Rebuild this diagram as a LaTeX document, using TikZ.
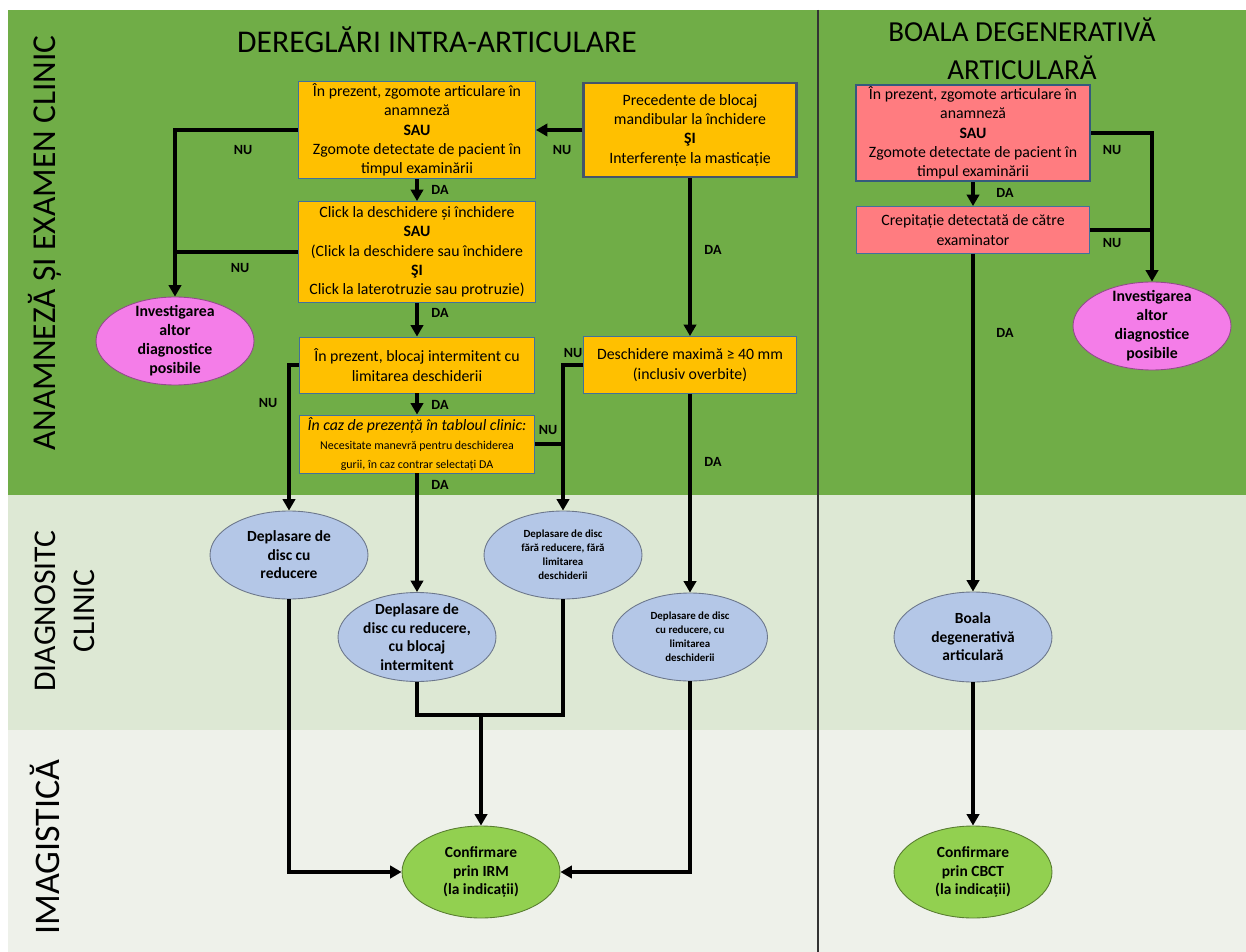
\documentclass[tikz,border=0pt]{standalone}
\usepackage{fontspec}
\setmainfont{Carlito}
\usetikzlibrary{arrows.meta,shapes.geometric,calc}
\definecolor{laneTop}{RGB}{112,173,71}
\definecolor{laneMid}{RGB}{221,232,212}
\definecolor{laneLow}{RGB}{238,241,234}
\definecolor{boxOrange}{RGB}{255,192,0}
\definecolor{boxPink}{RGB}{255,124,128}
\definecolor{edgeBlue}{RGB}{65,113,156}
\definecolor{edgeDark}{RGB}{68,84,106}
\definecolor{dxBlue}{RGB}{180,199,231}
\definecolor{dxMagenta}{RGB}{244,125,232}
\definecolor{dxGreen}{RGB}{146,208,80}

\begin{document}
\begin{tikzpicture}[
    x=0.02cm, y=-0.02cm,
    >={Triangle[length=6.5pt,width=7pt]},
    ask/.style={draw=edgeBlue, line width=0.5pt, fill=#1, align=center, inner sep=1pt,
                font=\fontsize{9}{11}\selectfont},
    ask/.default=boxOrange,
    dx/.style={ellipse, draw=#1!60!black, line width=0.5pt, fill=#1, align=center,
               inner xsep=0pt, inner ysep=-4pt,
               minimum width=3.16cm, minimum height=1.76cm,
               font=\fontsize{8.8}{10.5}\selectfont\bfseries},
    dx/.default=dxBlue,
    small/.style={font=\fontsize{6.2}{8}\selectfont\bfseries, inner ysep=-2pt},
    big/.style={font=\fontsize{9}{10.8}\selectfont\bfseries},
    link/.style={line width=2.2pt, ->},
    seg/.style={line width=2.2pt},
    yn/.style={font=\fontsize{8}{10}\selectfont\bfseries},
    ttl/.style={font=\fontsize{#1}{21.5}\selectfont, align=center},
    lane/.style={font=\fontsize{#1}{22.5}\selectfont, align=center, rotate=90},
]
\useasboundingbox (0,0) rectangle (1246,952);

% lanes
\fill[white] (0,0) rectangle (1246,952);
\fill[laneTop] (8,10) rectangle (1246,495);
\fill[laneMid] (8,495) rectangle (1246,730);
\fill[laneLow] (8,730) rectangle (1246,952);
\draw[line width=0.6pt, black!80] (818,10) -- (818,952);

\node[lane=19] (lanA) at (45,243) {ANAMNEZĂ ȘI EXAMEN CLINIC};
\node[lane=18] (lanD) at (65,611) {DIAGNOSITC\\CLINIC};
\node[lane=20.5] (lanI) at (45,847) {IMAGISTICĂ};

\node[ttl=18] (ttlA) at (437,40) {DEREGLĂRI INTRA-ARTICULARE};
\node[ttl=16.5] (ttlB) at (1022,49) {BOALA DEGENERATIVĂ\\ARTICULARĂ};

% intra-articular column
\node[ask, minimum width=4.74cm, minimum height=1.92cm] (zg) at (417,130)
    {În prezent, zgomote articulare în\\anamneză\\\textbf{SAU}\\Zgomote detectate de pacient în\\timpul examinării};
\node[ask, draw=edgeDark, line width=1.4pt, minimum width=4.26cm, minimum height=1.88cm] (prec) at (690,130)
    {Precedente de blocaj\\mandibular la închidere\\\textbf{ŞI}\\Interferențe la masticație};
\node[ask, minimum width=4.74cm, minimum height=2.02cm] (click) at (417,252)
    {Click la deschidere și închidere\\\textbf{SAU}\\(Click la deschidere sau închidere\\\textbf{ŞI}\\Click la laterotruzie sau protruzie)};
\node[ask, minimum width=4.7cm, minimum height=1.12cm] (blocaj) at (417,365)
    {În prezent, blocaj intermitent cu\\limitarea deschiderii};
\node[ask, minimum width=4.7cm, minimum height=1.16cm] (caz) at (417,444)
    {\textit{În caz de prezență în tabloul clinic:}\\{\fontsize{6.8}{9}\selectfont Necesitate manevră pentru deschiderea}\\{\fontsize{6.8}{9}\selectfont gurii, în caz contrar selectați DA}};
\node[ask, minimum width=4.26cm, minimum height=1.14cm] (desch) at (690,365)
    {Deschidere maximă ≥ 40 mm\\(inclusiv overbite)};

\node[dx=dxMagenta, big] (invL) at (175,341) {Investigarea\\altor\\diagnostice\\posibile};
\node[dx] (dcr) at (289,555) {Deplasare de\\disc cu\\reducere};
\node[dx, minimum height=1.78cm] (dcb) at (417,637) {Deplasare de\\disc cu reducere,\\cu blocaj\\intermitent};
\node[dx, small] (dfr) at (563,555) {Deplasare de disc\\fără reducere, fără\\limitarea\\deschiderii};
\node[dx, small, minimum width=3.1cm] (dcl) at (690,637) {Deplasare de disc\\cu reducere, cu\\limitarea\\deschiderii};
\node[dx=dxGreen, minimum height=1.84cm] (irm) at (481,872) {Confirmare\\prin IRM\\(la indicații)};

\draw[link] (prec) -- (zg);
\draw[link] (zg.west) -| (invL.north);
\draw[seg] (click.west) -- (click.west -| invL.north);
\draw[link] (zg) -- (click);
\draw[link] (click) -- (blocaj);
\draw[link] (blocaj) -- (caz);
\draw[link] (blocaj.west) -| (dcr.north);
\draw[link] (caz) -- (dcb);
\draw[link] (desch.west) -| (dfr.north);
\draw[seg] (caz.east) -- (caz.east -| dfr.north);
\draw[link] (prec) -- (desch);
\draw[link] (desch) -- (dcl);
\coordinate (mrg) at (481,715);
\draw[seg] (dcb.south) |- (mrg) -| (dfr.south);
\draw[link] (mrg) -- (irm.north);
\draw[link] (dcr.south) |- (irm.west);
\draw[link] (dcl.south) |- (irm.east);

\node[yn] (n1) at (562,150) {NU};
\node[yn] (n2) at (243,150) {NU};
\node[yn] (n3) at (240,268) {NU};
\node[yn] (n4) at (268,403) {NU};
\node[yn] (n5) at (548,430) {NU};
\node[yn] (n6) at (573,353) {NU};
\node[yn] (d1) at (440,190) {DA};
\node[yn] (d2) at (440,313) {DA};
\node[yn] (d3) at (440,405) {DA};
\node[yn] (d4) at (440,485) {DA};
\node[yn] (d5) at (713,250) {DA};
\node[yn] (d6) at (713,462) {DA};

% degenerative column
\node[ask=boxPink, draw=edgeBlue!80!black, line width=1.4pt, minimum width=4.68cm, minimum height=1.88cm] (pk1) at (973,133)
    {În prezent, zgomote articulare în\\anamneză\\\textbf{SAU}\\Zgomote detectate de pacient în\\timpul examinării};
\node[ask=boxPink, minimum width=4.66cm, minimum height=0.94cm] (pk2) at (973,230)
    {Crepitație detectată de către\\examinator};
\node[dx=dxMagenta, big] (invR) at (1152,326) {Investigarea\\altor\\diagnostice\\posibile};
\node[dx, minimum height=1.8cm] (bda) at (973,637) {Boala\\degenerativă\\articulară};
\node[dx=dxGreen, minimum height=1.84cm] (cbct) at (973,872) {Confirmare\\prin CBCT\\(la indicații)};

\draw[link] (pk1) -- (pk2);
\draw[link] (pk1.east) -| (invR.north);
\draw[seg] (pk2.east) -- (pk2.east -| invR.north);
\draw[link] (pk2) -- (bda);
\draw[link] (bda) -- (cbct);

\node[yn] (d7) at (1005,193) {DA};
\node[yn] (d8) at (1005,333) {DA};
\node[yn] (n7) at (1112,150) {NU};
\node[yn] (n8) at (1112,243) {NU};
\end{tikzpicture}
\end{document}
